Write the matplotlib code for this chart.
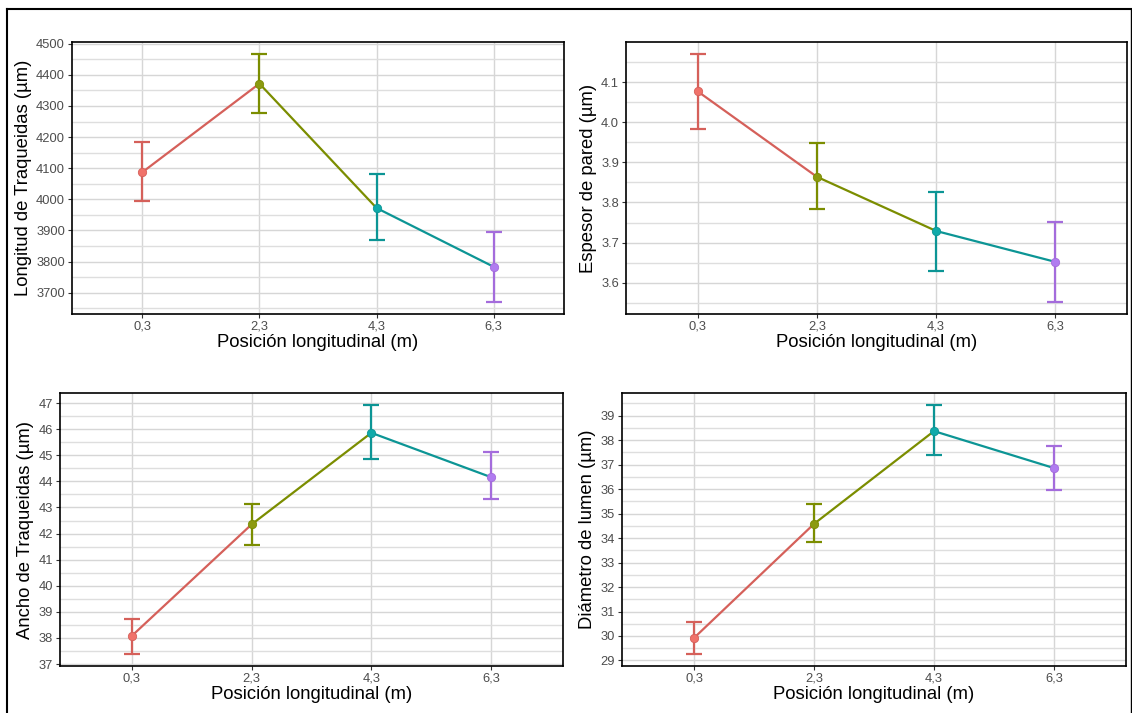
import numpy as np
import matplotlib.pyplot as plt
from matplotlib.ticker import MultipleLocator
from matplotlib.lines import Line2D

plt.rcParams['font.family'] = ['Liberation Sans', 'DejaVu Sans']

# posiciones (categorías del eje x)
posiciones = ['0,3', '2,3', '4,3', '6,3']

# medias y límites de las barras de error
longitud_media = [4087, 4372, 3972, 3783]
longitud_sup = [4184, 4466, 4082, 3896]
longitud_inf = [3995, 4277, 3869, 3671]

espesor_media = [4.077, 3.864, 3.729, 3.652]
espesor_sup = [4.169, 3.947, 3.827, 3.751]
espesor_inf = [3.982, 3.783, 3.629, 3.553]

ancho_media = [38.08, 42.35, 45.86, 44.16]
ancho_sup = [38.74, 43.13, 46.91, 45.13]
ancho_inf = [37.40, 41.57, 44.85, 43.31]

diametro_media = [29.92, 34.58, 38.37, 36.86]
diametro_sup = [30.59, 35.39, 39.42, 37.77]
diametro_inf = [29.28, 33.83, 37.39, 35.96]

# colores por grupo (barra/linea y punto)
col_linea = ['#D5605A', '#7B8D00', '#0C9595', '#A46CDC']
col_punto = ['#F0726A', '#8C9A10', '#10AAAA', '#B07CF0']

paneles = [
    # (left, bottom, width, height), media, sup, inf, ylabel, paso mayor
    ((0.0636, 0.5596, 0.4346, 0.3815), longitud_media, longitud_sup, longitud_inf,
     'Longitud de Traqueidas (µm)', 100),
    ((0.5530, 0.5596, 0.4426, 0.3815), espesor_media, espesor_sup, espesor_inf,
     'Espesor de pared (µm)', 0.1),
    ((0.0530, 0.0659, 0.4443, 0.3829), ancho_media, ancho_sup, ancho_inf,
     'Ancho de Traqueidas (µm)', 1),
    ((0.5495, 0.0659, 0.4452, 0.3829), diametro_media, diametro_sup, diametro_inf,
     'Diámetro de lumen (µm)', 1),
]

fig = plt.figure(figsize=(11.32, 7.13), dpi=100)

x = np.arange(1, len(posiciones) + 1)

for rect, media, sup, inf, ylab, paso in paneles:
    ax = fig.add_axes(rect)
    media = np.array(media)
    sup = np.array(sup)
    inf = np.array(inf)

    # lineas entre puntos coloreadas por el punto inicial
    for i in range(len(x) - 1):
        ax.plot(x[i:i + 2], media[i:i + 2], color=col_linea[i], lw=1.6, zorder=3,
                solid_capstyle='butt')
    for i in range(len(x)):
        ax.errorbar(x[i], media[i], yerr=[[media[i] - inf[i]], [sup[i] - media[i]]],
                    fmt='none', ecolor=col_linea[i], elinewidth=1.6, capsize=5.5,
                    capthick=1.6, zorder=4)
        ax.plot(x[i], media[i], 'o', color=col_punto[i], ms=6, mec=col_linea[i],
                mew=0.6, zorder=5)

    lo, hi = inf.min(), sup.max()
    pad = (hi - lo) * 0.05
    ax.set_ylim(lo - pad, hi + pad)
    ax.set_xlim(0.4, 4.6)

    ax.set_xticks(x)
    ax.set_xticklabels(posiciones)
    ax.yaxis.set_major_locator(MultipleLocator(paso))
    ax.yaxis.set_minor_locator(MultipleLocator(paso / 2))
    if paso < 1:
        ax.yaxis.set_major_formatter(plt.FuncFormatter(lambda v, p: f'{v:.1f}'))

    ax.grid(True, which='major', axis='both', color='#D6D6D6', lw=1.0, zorder=0)
    ax.grid(True, which='minor', axis='y', color='#DEDEDE', lw=1.0, zorder=0)
    ax.set_axisbelow(True)

    for s in ax.spines.values():
        s.set_color('black')
        s.set_linewidth(1.2)

    ax.tick_params(which='major', length=3, width=0.8, color='#333333',
                   labelsize=9.3, labelcolor='#4D4D4D', pad=2)
    ax.tick_params(which='minor', length=0)

    ax.set_ylabel(ylab, fontsize=13.3, color='black', labelpad=3)
    ax.set_xlabel('Posición longitudinal (m)', fontsize=13.3, color='black', labelpad=1)

# marco exterior de la imagen
W, H = 1132, 713
fig.add_artist(Line2D([7 / W, 7 / W], [0, 1 - 9 / H], color='black', lw=1.5,
                      transform=fig.transFigure))
fig.add_artist(Line2D([7 / W, 1131 / W], [1 - 9 / H, 1 - 9 / H], color='black', lw=1.5,
                      transform=fig.transFigure))
fig.add_artist(Line2D([1131 / W, 1131 / W], [0, 1 - 9 / H], color='black', lw=1.0,
                      transform=fig.transFigure))

fig.savefig('out.png', dpi=100)
